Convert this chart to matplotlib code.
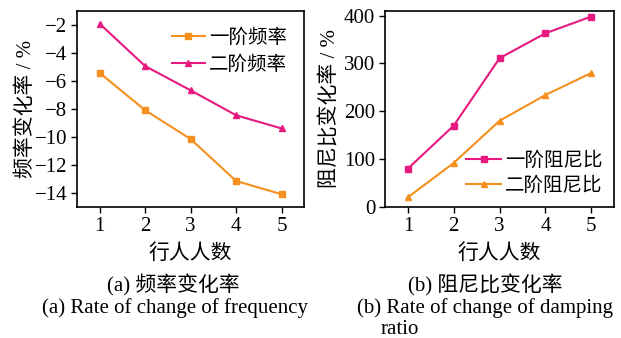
import matplotlib
matplotlib.use('Agg')
import matplotlib.pyplot as plt

plt.rcParams['font.family'] = ['Liberation Serif', 'Noto Sans CJK SC']
plt.rcParams['axes.unicode_minus'] = True

people = [1, 2, 3, 4, 5]
freq1 = [-5.44, -8.1, -10.16, -13.15, -14.1]
freq2 = [-1.93, -4.95, -6.68, -8.46, -9.4]
damp1 = [80, 170, 311, 363, 398]
damp2 = [20, 92, 180, 234, 280]

orange = '#F5901E'
magenta = '#E6197F'

fig = plt.figure(figsize=(6.21, 3.38), dpi=100)
ax1 = fig.add_axes([0.124, 0.388, 0.366, 0.58])
ax2 = fig.add_axes([0.62, 0.388, 0.369, 0.58])

ax1.plot(people, freq1, color=orange, marker='s', ms=4, lw=1.5, label='一阶频率')
ax1.plot(people, freq2, color=magenta, marker='^', ms=4, lw=1.5, label='二阶频率')
ax1.set_xlim(0.5, 5.5)
ax1.set_ylim(-15, -1)
ax1.set_yticks([-14, -12, -10, -8, -6, -4, -2])
ax1.set_ylabel('频率变化率 / %', fontsize=15)
ax1.yaxis.set_label_coords(-0.18, 0.5)
ax1.legend(loc='upper right', frameon=False, fontsize=14, handlelength=1.7,
           handletextpad=0.2, borderaxespad=0.5, labelspacing=0.45)

ax2.plot(people, damp1, color=magenta, marker='s', ms=4, lw=1.5, label='一阶阻尼比')
ax2.plot(people, damp2, color=orange, marker='^', ms=4, lw=1.5, label='二阶阻尼比')
ax2.set_xlim(0.5, 5.5)
ax2.set_ylim(0, 410)
ax2.set_yticks([0, 100, 200, 300, 400])
ax2.set_ylabel('阻尼比变化率 / %', fontsize=15)
ax2.yaxis.set_label_coords(-0.195, 0.5)
ax2.legend(loc='lower right', frameon=False, fontsize=14, handlelength=1.8,
           handletextpad=0.2, borderaxespad=0.2, labelspacing=0.35)

for ax in (ax1, ax2):
    ax.set_xticks(people)
    ax.tick_params(labelsize=15, direction='out', length=4, width=1, pad=3)
    for s in ax.spines.values():
        s.set_linewidth(1.2)
    ax.set_xlabel('行人人数', fontsize=15, labelpad=6)

fig.text(0.279, 0.157, '(a) 频率变化率', ha='center', va='center', fontsize=15)
fig.text(0.281, 0.089, '(a) Rate of change of frequency', ha='center', va='center', fontsize=15)
fig.text(0.781, 0.157, '(b) 阻尼比变化率', ha='center', va='center', fontsize=15)
fig.text(0.575, 0.089, '(b) Rate of change of damping', ha='left', va='center', fontsize=15)
fig.text(0.613, 0.025, 'ratio', ha='left', va='center', fontsize=15)

fig.savefig('out.png', dpi=100)
